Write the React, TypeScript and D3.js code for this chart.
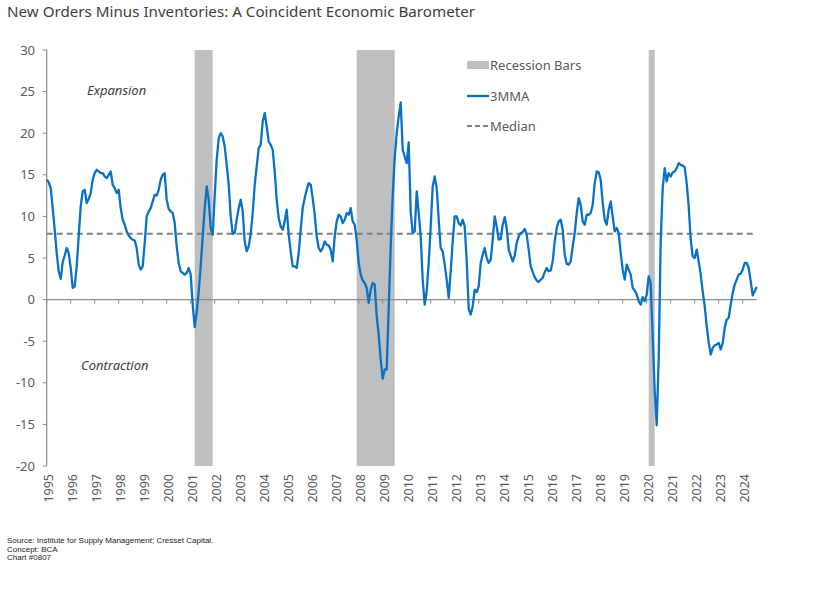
import React from "react";
import * as d3 from "d3";

const title = "New Orders Minus Inventories: A Coincident Economic Barometer";
const footnotes = [
  "Source: Institute for Supply Management; Cresset Capital.",
  "Concept: BCA",
  "Chart #0807",
];
const startYear = 1995;

// 3-month moving average, monthly from Jan 1995
const v1995 = [14.4, 14.1, 13.4, 11.0, 8.4, 5.6, 3.4, 2.5, 4.5, 5.3, 6.2, 5.6];
const v1996 = [3.8, 1.4, 1.6, 4.0, 7.6, 11.2, 13.0, 13.2, 11.6, 12.1, 12.8, 14.4];
const v1997 = [15.2, 15.6, 15.4, 15.2, 15.2, 14.8, 14.6, 15.0, 15.4, 13.8, 13.4, 12.8];
const v1998 = [13.2, 11.0, 9.6, 9.0, 8.2, 7.7, 7.4, 7.2, 7.1, 6.2, 4.2, 3.6];
const v1999 = [4.0, 6.8, 10.0, 10.6, 11.0, 11.8, 12.6, 12.5, 13.2, 14.4, 15.0, 15.2];
const v2000 = [12.0, 10.9, 10.6, 10.4, 9.2, 6.4, 4.4, 3.4, 3.2, 3.0, 3.2, 3.8];
const v2001 = [3.0, -0.6, -3.3, -1.5, 1.0, 4.0, 7.6, 11.0, 13.6, 12.0, 8.6, 7.8];
const v2002 = [12.5, 16.8, 19.4, 20.0, 19.6, 18.4, 16.2, 13.8, 10.0, 7.9, 8.0, 9.6];
const v2003 = [11.0, 12.0, 10.6, 7.0, 5.8, 6.4, 7.9, 10.4, 13.8, 16.0, 18.2, 18.6];
const v2004 = [21.4, 22.4, 20.8, 19.0, 18.6, 18.0, 15.4, 12.0, 9.8, 8.8, 8.4, 9.4];
const v2005 = [10.8, 7.8, 5.8, 4.0, 4.0, 3.8, 5.6, 8.4, 11.0, 12.2, 13.2, 14.0];
const v2006 = [13.8, 12.2, 10.2, 7.6, 6.2, 5.8, 6.2, 7.0, 6.6, 6.5, 6.0, 4.6];
const v2007 = [7.6, 9.4, 10.2, 10.0, 9.2, 9.6, 10.4, 10.2, 11.0, 9.4, 9.0, 7.2];
const v2008 = [4.4, 3.0, 2.3, 2.0, 1.4, -0.4, 1.2, 2.0, 1.8, -2.0, -4.2, -7.2];
const v2009 = [-9.5, -8.4, -8.4, -1.0, 6.4, 12.5, 17.0, 20.0, 22.0, 23.7, 18.0, 17.2];
const v2010 = [16.4, 18.9, 10.5, 8.0, 8.2, 13.0, 10.4, 7.6, 2.4, -0.6, 1.0, 4.4];
const v2011 = [8.8, 13.6, 14.8, 13.4, 9.6, 6.2, 5.8, 4.2, 2.4, 0.2, 3.4, 7.0];
const v2012 = [10.0, 10.0, 9.2, 8.9, 9.6, 8.8, 4.6, -1.1, -1.8, -0.8, 1.2, 0.9];
const v2013 = [1.6, 4.4, 5.4, 6.2, 5.0, 4.4, 4.8, 7.2, 10.0, 8.8, 7.2, 7.3];
const v2014 = [9.0, 9.9, 8.6, 6.0, 5.3, 4.6, 5.3, 6.8, 7.6, 8.0, 8.1, 8.5];
const v2015 = [7.8, 6.0, 4.0, 3.3, 2.7, 2.3, 2.1, 2.4, 2.6, 3.3, 3.8, 3.4];
const v2016 = [3.5, 4.6, 7.0, 8.6, 9.4, 9.6, 8.4, 5.4, 4.3, 4.2, 4.6, 6.4];
const v2017 = [8.0, 10.4, 12.2, 11.4, 9.4, 9.0, 10.2, 10.2, 10.4, 11.4, 14.0, 15.4];
const v2018 = [15.3, 14.4, 11.6, 9.6, 9.0, 10.8, 11.8, 10.0, 8.2, 8.6, 8.0, 5.6];
const v2019 = [3.6, 2.4, 4.2, 3.6, 3.0, 1.4, 1.1, 0.6, -0.2, -0.6, 0.3, -0.2];
const v2020 = [0.6, 2.8, 2.0, -4.4, -11.0, -15.1, -7.0, 7.0, 13.4, 15.8, 14.2, 15.2];
const v2021 = [14.8, 15.3, 15.4, 15.8, 16.4, 16.2, 16.1, 15.9, 14.0, 11.2, 7.2, 5.2];
const v2022 = [5.0, 6.0, 4.6, 3.0, 1.0, -0.8, -3.2, -5.2, -6.6, -5.8, -5.5, -5.4];
const v2023 = [-5.2, -6.0, -5.2, -3.4, -2.4, -2.2, -0.6, 0.8, 1.8, 2.4, 3.0, 3.1];
const v2024 = [3.6, 4.4, 4.4, 3.8, 2.2, 0.5, 1.0, 1.5];

const threeMMA = [
  ...v1995, ...v1996, ...v1997, ...v1998, ...v1999, ...v2000, ...v2001, ...v2002,
  ...v2003, ...v2004, ...v2005, ...v2006, ...v2007, ...v2008, ...v2009, ...v2010,
  ...v2011, ...v2012, ...v2013, ...v2014, ...v2015, ...v2016, ...v2017, ...v2018,
  ...v2019, ...v2020, ...v2021, ...v2022, ...v2023, ...v2024,
];

const medianValue = 7.9;
const yTicks = [-20, -15, -10, -5, 0, 5, 10, 15, 20, 25, 30];
const xTickYears = d3.range(1995, 2025);
const recessionStart = ["2001-03", "2007-12", "2020-02"];
const recessionEnd = ["2001-11", "2009-06", "2020-04"];
const legendLabels = ["Recession Bars", "3MMA", "Median"];
const zoneLabels = ["Expansion", "Contraction"];

const BLUE = "#0A72C6";
const GREY_BAR = "#BFBFBF";
const AXIS = "#8C8C8C";
const TEXT = "#595959";
const FONT = "'Noto Sans', 'DejaVu Sans', sans-serif";

function monthIndex(s: string) {
  const [yy, mm] = s.split("-").map(Number);
  return (yy - startYear) * 12 + (mm - 1);
}

export default function App() {
  const W = 813;
  const H = 591;
  const left = 46.7;
  const right = 756.7;
  const top = 50;
  const bottom = 466;

  const x = d3.scaleLinear().domain([0, threeMMA.length - 1]).range([left, right]);
  const y = d3.scaleLinear().domain([-20, 30]).range([bottom, top]);

  const linePath = d3
    .line<number>()
    .x((_, i) => x(i))
    .y((d) => y(d))(threeMMA) as string;

  return (
    <svg
      width={W}
      height={H}
      viewBox={`0 0 ${W} ${H}`}
      style={{ position: "absolute", left: 0, top: 0, background: "#fff" }}
    >
      <text x={7} y={17} fontFamily={FONT} fontSize={15} fill="#404040" textLength={468} lengthAdjust="spacingAndGlyphs">
        {title}
      </text>

      {/* recession bars */}
      {recessionStart.map((s, i) => {
        const x0 = x(monthIndex(s));
        const x1 = x(monthIndex(recessionEnd[i]) + 1);
        return <rect key={s} x={x0} y={top} width={x1 - x0} height={bottom - top} fill={GREY_BAR} />;
      })}

      {/* y axis */}
      <line x1={left} x2={left} y1={top} y2={bottom} stroke={AXIS} strokeWidth={1.2} />
      {yTicks.map((t) => (
        <g key={t}>
          <line x1={left - 4} x2={left} y1={y(t)} y2={y(t)} stroke={AXIS} strokeWidth={1} />
          <text x={35} y={y(t)} dy="0.35em" textAnchor="end" fontFamily={FONT} fontSize={13} fill={TEXT}>
            {t}
          </text>
        </g>
      ))}

      {/* x axis at zero */}
      <line x1={left} x2={right} y1={y(0)} y2={y(0)} stroke={AXIS} strokeWidth={1.4} />
      {xTickYears.map((yr) => {
        const xi = x((yr - startYear) * 12);
        return (
          <g key={yr}>
            <line x1={xi} x2={xi} y1={y(0)} y2={y(0) + 4} stroke={AXIS} strokeWidth={1} />
            <text
              transform={`translate(${xi + 1.5},${bottom + 8}) rotate(-90)`}
              textAnchor="end"
              dy="0.35em"
              fontFamily={FONT}
              fontSize={12.5}
              fill={TEXT}
            >
              {yr}
            </text>
          </g>
        );
      })}

      {/* median */}
      <line
        x1={left}
        x2={right}
        y1={y(medianValue)}
        y2={y(medianValue)}
        stroke="#808080"
        strokeWidth={2}
        strokeDasharray="6 4"
      />

      {/* series */}
      <path d={linePath} fill="none" stroke={BLUE} strokeWidth={2.3} strokeLinejoin="round" />

      {/* zone labels */}
      <text x={87} y={90} dy="0.35em" fontFamily={FONT} fontStyle="italic" fontSize={13} fill="#404040">
        {zoneLabels[0]}
      </text>
      <text x={81} y={365} dy="0.35em" fontFamily={FONT} fontStyle="italic" fontSize={13} fill="#404040">
        {zoneLabels[1]}
      </text>

      {/* legend */}
      <rect x={467} y={61} width={22} height={8} fill={GREY_BAR} />
      <text x={490} y={65} dy="0.35em" fontFamily={FONT} fontSize={13} fill={TEXT}>
        {legendLabels[0]}
      </text>
      <line x1={467} x2={489} y1={96} y2={96} stroke={BLUE} strokeWidth={2.3} />
      <text x={490} y={96} dy="0.35em" fontFamily={FONT} fontSize={13} fill={TEXT}>
        {legendLabels[1]}
      </text>
      <line x1={467} x2={489} y1={126} y2={126} stroke="#808080" strokeWidth={2} strokeDasharray="5 3" />
      <text x={490} y={126} dy="0.35em" fontFamily={FONT} fontSize={13} fill={TEXT}>
        {legendLabels[2]}
      </text>

      {/* footnotes */}
      {footnotes.map((f, i) => (
        <text key={f} x={7} y={543 + i * 8.7} fontFamily="'Liberation Sans', Arial, sans-serif" fontSize={8} fill="#222">
          {f}
        </text>
      ))}
    </svg>
  );
}
